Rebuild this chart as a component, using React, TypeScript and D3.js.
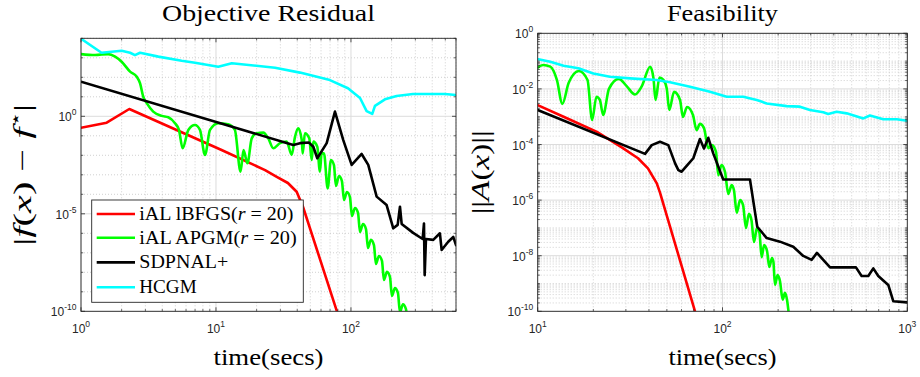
import React from "react";
import * as d3 from "d3";

type Pt = [number, number];

// ---------------- data: [time (secs), value] ----------------
const objLbfgs: Pt[] = [
  [1, 0.26], [1.55, 0.47], [2.28, 2.37], [11.0, 1.86e-2], [23.1, 1.74e-3], [28.2, 7.9e-4],
  [34.1, 3.8e-4], [39.6, 1.35e-4], [44.1, 2.3e-5], [78.7, 1.0e-10], [90.3, 6e-12],
];
const objApgm: Pt[] = [
  [1.0, 1.55e3], [1.27, 1.38e3], [1.59, 1.55e3], [1.79, 1.15e3], [2.0, 631], [2.31, 195], [2.59, 107],
  [2.74, 49], [2.89, 10.2], [3.07, 4.7], [3.43, 1.74], [3.96, 1.05], [4.43, 0.89], [4.97, 0.44],
  [5.32, 0.2], [5.66, 0.023], [6.24, 0.2], [6.99, 0.355], [7.61, 0.2], [8.29, 0.0105], [9.03, 0.2],
  [10.4, 0.44], [12.3, 0.39], [13.8, 0.2], [15.2, 1.45e-3], [16.0, 1.86e-2], [17.1, 3.9e-3],
  [18.4, 7.4e-2], [20.0, 0.135], [22.4, 0.145], [24.4, 7.4e-2], [26.6, 2.3e-2], [29.8, 4.2e-2],
  [33.4, 5.0e-2], [36.4, 1.05e-2], [38.5, 8.9e-2], [40.7, 0.24], [43.2, 6.0e-2], [43.9, 1.26e-2],
  [45.6, 0.135], [49.1, 7.4e-2], [51.2, 5.75e-3], [52.6, 5.0e-2], [56.3, 2.75e-2], [58.9, 1.45e-3],
  [60.6, 1.26e-2], [63.1, 1.26e-2], [67.2, 2.0e-4], [71.1, 5.75e-3], [74.8, 3.16e-3], [77.4, 2.7e-4],
  [81.5, 8.7e-4], [85.7, 4.8e-4], [88.8, 5.1e-5], [93.4, 1.32e-4], [98.3, 7.2e-5], [101.7, 7.8e-6],
  [107.1, 2.0e-5], [112.8, 1.1e-5], [116.7, 1.17e-6], [122.7, 3.0e-6], [129.2, 1.66e-6],
  [133.6, 1.78e-7], [140.6, 4.6e-7], [148.0, 2.5e-7], [153.1, 2.7e-8], [161.2, 6.9e-8],
  [169.7, 3.8e-8], [175.5, 4.1e-9], [184.8, 1.05e-8], [194.5, 5.75e-9], [201.2, 6.2e-10],
  [211.7, 1.55e-9], [222.8, 8.7e-10], [230.7, 9.1e-11], [242.7, 2.3e-10], [255.5, 1.29e-10],
  [264.4, 1.4e-11],
];
const objSdpnal: Pt[] = [
  [1, 59], [37.4, 3.4e-2], [41.9, 4.2e-2], [48.9, 4.5e-2], [52.6, 2.75e-2], [56.3, 7.1e-3],
  [66.1, 4.2e-2], [76.1, 1.74], [87.7, 6.0e-2], [101.2, 3.2e-3], [120, 1.17e-2], [134.3, 3.2e-3],
  [155, 7.6e-5], [183.7, 2.8e-5], [205.8, 1.8e-6], [221.8, 2.7e-6], [230.7, 2.3e-5], [237.5, 3.0e-6],
  [289, 1.05e-6], [339.6, 5.1e-7], [347.5, 3.2e-6], [351.6, 7.2e-9], [359.5, 5.1e-7], [407, 4.6e-7],
  [456, 1.0e-6], [469.6, 1.4e-7], [525.6, 3.7e-7], [572.5, 6.5e-7], [600, 2.5e-7],
];
const objHcgm: Pt[] = [
  [1, 9.5e3], [1.42, 1.82e3], [2.0, 2.29e3], [2.31, 1.82e3], [2.51, 1.38e3], [2.74, 1.82e3],
  [3.74, 1.15e3], [5.57, 708], [6.99, 562], [10.4, 347], [13.1, 525], [27.4, 309], [41.9, 174],
  [69.8, 72], [95, 27.5], [116.7, 8.7], [130.6, 1.86], [143.8, 1.32], [150.6, 3.4], [178.6, 7.4],
  [218, 11], [288, 13.8], [497, 13.8], [600, 12.3],
];

const feasLbfgs: Pt[] = [
  [10.0, 2.6e-3], [13.8, 1.0e-3], [20.8, 2.9e-4], [28.5, 7.9e-5], [34.9, 3.2e-5], [39.5, 1.38e-5],
  [44.1, 4.0e-6], [45.9, 1.86e-6], [71.0, 1.0e-10], [75.5, 2.1e-11],
];
const feasApgm: Pt[] = [
  [10.0, 5.8e-2], [10.7, 7.2e-2], [11.7, 6.3e-2], [12.7, 2.1e-2], [13.6, 2.9e-3], [14.7, 1.62e-2],
  [16.7, 4.4e-2], [18.6, 2.1e-2], [19.7, 7.6e-4], [20.8, 5.25e-3], [21.7, 4.0e-3], [22.6, 1.15e-3],
  [24.3, 1.0e-2], [27.5, 2.3e-2], [30.3, 1.26e-2], [33.6, 6.3e-3], [36.6, 1.26e-2], [40.6, 6.3e-2],
  [42.3, 2.45e-2], [43.4, 4.0e-3], [45.6, 2.57e-2], [47.9, 2.1e-2], [49.9, 1.05e-2], [51.5, 1.74e-3],
  [54.7, 7.8e-3], [58.9, 4.0e-3], [61.1, 9.8e-4], [64.3, 2.24e-3], [69.2, 1.15e-3], [72.4, 3.3e-4],
  [75.5, 5.5e-4], [79.4, 3.9e-4], [83.8, 7.4e-5], [87.7, 9.5e-5], [92.2, 5.4e-5], [94.9, 7.9e-6],
  [98.8, 1.82e-5], [103.2, 1.02e-5], [107.5, 1.66e-6], [112.2, 3.5e-6], [115.3, 2.3e-6],
  [119.4, 3.5e-7], [124.5, 1.0e-6], [129.2, 6.6e-7], [134.0, 1.0e-7], [139.0, 3.2e-7],
  [143.5, 1.9e-7], [148.0, 3.1e-8], [153.7, 1.0e-7], [158.5, 6.6e-8], [162.9, 8.9e-9],
  [167.9, 2.4e-8], [174.2, 1.48e-8], [179.1, 3.9e-9], [185.2, 8.3e-9], [188.6, 6.0e-9],
  [192.3, 8.9e-10], [198.6, 2.0e-9], [204.6, 1.23e-9], [211.7, 2.6e-10], [217.8, 4.6e-10],
  [223.4, 2.6e-10], [229, 6.8e-11],
];
const feasSdpnal: Pt[] = [
  [10.0, 1.74e-3], [38.1, 4.6e-5], [41.4, 9.5e-5], [45.9, 1.26e-4], [50.9, 9.5e-5], [55.4, 2.1e-5],
  [57.7, 1.2e-5], [60.1, 1.05e-5], [64.5, 1.82e-5], [69.5, 3.2e-5], [75.5, 1.58e-4], [79.4, 7.2e-5],
  [83.8, 1.74e-4], [89.1, 4.8e-5], [100.9, 5.5e-6], [140.8, 5.5e-6], [154.2, 1.1e-7], [173.5, 4.3e-8],
  [204.6, 3.2e-8], [241.5, 2.1e-8], [273.5, 9.8e-9], [303.8, 7.1e-9], [324.5, 1.26e-8],
  [381.9, 3.8e-9], [527.4, 3.8e-9], [566, 1.86e-9], [615, 1.86e-9], [654.6, 3.5e-9],
  [696.6, 1.86e-9], [789, 8.9e-10], [839.5, 2.3e-10], [1000, 2.1e-10],
];
const feasHcgm: Pt[] = [
  [10.1, 0.116], [11.7, 9.5e-2], [13.8, 6.8e-2], [16.6, 5.5e-2], [20.0, 3.6e-2], [24.6, 2.75e-2],
  [31.6, 2.4e-2], [44.0, 2.1e-2], [52.0, 1.74e-2], [66.7, 1.2e-2], [85.5, 7.9e-3], [105.4, 5.25e-3],
  [129.6, 5.25e-3], [153.2, 4.0e-3], [173.5, 3.0e-3], [222.5, 2.4e-3], [262.4, 2.3e-3],
  [297.2, 1.74e-3], [350.8, 1.45e-3], [373.3, 1.26e-3], [414.7, 1.51e-3], [469.9, 1.32e-3],
  [578, 8.7e-4], [628, 1.1e-3], [741, 8.1e-4], [877, 8.1e-4], [1000, 7.1e-4],
];

const legendNames = ["iAL lBFGS", "iAL APGM", "SDPNAL+", "HCGM"];
const legendRanks = ["20", "20", "", ""];
const seriesColors = ["#ff0000", "#00ff00", "#000000", "#00ffff"];

const objXTicks = [1, 10, 100];
const objXTickExp = ["0", "1", "2"];
const objYTicks = [1e-10, 1e-5, 1];
const objYTickExp = ["-10", "-5", "0"];
const feasXTicks = [10, 100, 1000];
const feasXTickExp = ["1", "2", "3"];
const feasYTicks = [1e-10, 1e-8, 1e-6, 1e-4, 1e-2, 1];
const feasYTickExp = ["-10", "-8", "-6", "-4", "-2", "0"];

const SERIF = "'Liberation Serif', 'DejaVu Serif', serif";
const SANS = "'Liberation Sans', Arial, sans-serif";
const AX = "#262626";

function minorValues(domain: [number, number], majors: number[], mults: number[]) {
  const out: number[] = [];
  const k0 = Math.floor(Math.log10(domain[0]));
  const k1 = Math.ceil(Math.log10(domain[1]));
  for (let k = k0; k <= k1; k++) {
    for (const m of mults) {
      const v = m * Math.pow(10, k);
      if (v < domain[0] * 0.99999 || v > domain[1] * 1.00001) continue;
      if (majors.some((t) => Math.abs(Math.log10(t) - Math.log10(v)) < 1e-6)) continue;
      out.push(v);
    }
  }
  return out;
}

type Box = { l: number; r: number; t: number; b: number };

function Panel(props: any) {
  const { id, box, xDomain, yDomain, xTicks, xTickExp, yTicks, yTickExp, yMinorMults, series,
    title, titleLen, xLabelLen, yLabel, legend } = props;
  const bx: Box = box;
  const x = d3.scaleLog().domain(xDomain).range([bx.l, bx.r]);
  const y = d3.scaleLog().domain(yDomain).range([bx.b, bx.t]);
  const xMinor = minorValues(xDomain, xTicks, [1, 2, 3, 4, 5, 6, 7, 8, 9]);
  const yMinor = minorValues(yDomain, yTicks, yMinorMults);
  const cx = (bx.l + bx.r) / 2;
  const lineLin = d3.line<Pt>().x((d) => x(d[0])).y((d) => y(d[1]));
  const lineSmooth = d3.line<Pt>().x((d) => x(d[0])).y((d) => y(d[1])).curve(d3.curveMonotoneX);
  const TL = 4;
  const TM = 2.2;
  return (
    <g>
      <defs>
        <clipPath id={id}>
          <rect x={bx.l} y={bx.t} width={bx.r - bx.l} height={bx.b - bx.t} />
        </clipPath>
      </defs>
      <rect x={bx.l} y={bx.t} width={bx.r - bx.l} height={bx.b - bx.t} fill="#fff" />
      {/* minor grid */}
      {xMinor.map((v, i) => (
        <line key={"xm" + i} x1={x(v)} x2={x(v)} y1={bx.t} y2={bx.b} stroke="#bdbdbd" strokeWidth={0.7} strokeDasharray="1 2" />
      ))}
      {yMinor.map((v, i) => (
        <line key={"ym" + i} x1={bx.l} x2={bx.r} y1={y(v)} y2={y(v)} stroke="#bdbdbd" strokeWidth={0.7} strokeDasharray="1 2" />
      ))}
      {/* major grid */}
      {xTicks.map((v: number, i: number) => (
        <line key={"xg" + i} x1={x(v)} x2={x(v)} y1={bx.t} y2={bx.b} stroke="#dcdcdc" strokeWidth={1} />
      ))}
      {yTicks.map((v: number, i: number) => (
        <line key={"yg" + i} x1={bx.l} x2={bx.r} y1={y(v)} y2={y(v)} stroke="#dcdcdc" strokeWidth={1} />
      ))}
      {/* series */}
      <g clipPath={`url(#${id})`}>
        {series.map((s: any, i: number) => (
          <path key={"s" + i} d={(s.smooth ? lineSmooth : lineLin)(s.data) || ""} fill="none" stroke={s.color}
            strokeWidth={2.6} strokeLinejoin="round" strokeLinecap="round" />
        ))}
      </g>
      {/* ticks */}
      {xTicks.map((v: number, i: number) => (
        <g key={"xt" + i}>
          <line x1={x(v)} x2={x(v)} y1={bx.b} y2={bx.b - TL} stroke={AX} strokeWidth={0.8} />
          <line x1={x(v)} x2={x(v)} y1={bx.t} y2={bx.t + TL} stroke={AX} strokeWidth={0.8} />
        </g>
      ))}
      {xMinor.map((v, i) => (
        <g key={"xmt" + i}>
          <line x1={x(v)} x2={x(v)} y1={bx.b} y2={bx.b - TM} stroke={AX} strokeWidth={0.7} />
          <line x1={x(v)} x2={x(v)} y1={bx.t} y2={bx.t + TM} stroke={AX} strokeWidth={0.7} />
        </g>
      ))}
      {yTicks.map((v: number, i: number) => (
        <g key={"yt" + i}>
          <line x1={bx.l} x2={bx.l + TL} y1={y(v)} y2={y(v)} stroke={AX} strokeWidth={0.8} />
          <line x1={bx.r} x2={bx.r - TL} y1={y(v)} y2={y(v)} stroke={AX} strokeWidth={0.8} />
        </g>
      ))}
      {yMinor.map((v, i) => (
        <g key={"ymt" + i}>
          <line x1={bx.l} x2={bx.l + TM} y1={y(v)} y2={y(v)} stroke={AX} strokeWidth={0.7} />
          <line x1={bx.r} x2={bx.r - TM} y1={y(v)} y2={y(v)} stroke={AX} strokeWidth={0.7} />
        </g>
      ))}
      <rect x={bx.l} y={bx.t} width={bx.r - bx.l} height={bx.b - bx.t} fill="none" stroke={AX} strokeWidth={0.9} />
      {/* tick labels */}
      {xTicks.map((v: number, i: number) => (
        <text key={"xl" + i} x={x(v)} y={332.5} textAnchor="middle" fontFamily={SANS} fontSize={12} fill={AX}>
          <tspan>10</tspan>
          <tspan dy={-6} fontSize={8.5}>{xTickExp[i]}</tspan>
        </text>
      ))}
      {yTicks.map((v: number, i: number) => (
        <text key={"yl" + i} x={bx.l - 4.5} y={y(v) + 5} textAnchor="end" fontFamily={SANS} fontSize={12} fill={AX}>
          <tspan>10</tspan>
          <tspan dy={-6} fontSize={8.5}>{yTickExp[i]}</tspan>
        </text>
      ))}
      {/* titles */}
      <text x={cx} y={21} textAnchor="middle" fontFamily={SERIF} fontSize={24} fill="#000"
        textLength={titleLen} lengthAdjust="spacingAndGlyphs">{title}</text>
      <text x={cx} y={365} textAnchor="middle" fontFamily={SERIF} fontSize={23} fill="#000"
        textLength={xLabelLen} lengthAdjust="spacingAndGlyphs">time(secs)</text>
      {yLabel}
      {legend}
    </g>
  );
}

function Legend() {
  const rowsY = [214, 237.8, 262.4, 287.3];
  const textLens = [154, 157.4, 89, 57.4];
  return (
    <g>
      <rect x={91.7} y={200} width={211.6} height={102.3} fill="#fff" stroke={AX} strokeWidth={0.9} />
      {legendNames.map((name, i) => (
        <g key={name}>
          <line x1={96.7} x2={135} y1={rowsY[i]} y2={rowsY[i]} stroke={seriesColors[i]} strokeWidth={2.6} />
          <text x={139.3} y={rowsY[i] + 5.7} fontFamily={SERIF} fontSize={19} fill="#000"
            textLength={textLens[i]} lengthAdjust="spacingAndGlyphs">
            <tspan>{name}</tspan>
            {legendRanks[i] ? (
              <>
                <tspan>(</tspan>
                <tspan fontStyle="italic">r</tspan>
                <tspan>{" = " + legendRanks[i] + ")"}</tspan>
              </>
            ) : null}
          </text>
        </g>
      ))}
    </g>
  );
}

export default function App() {
  const leftBox: Box = { l: 81, r: 456, t: 38.3, b: 311.3 };
  const rightBox: Box = { l: 537.7, r: 907.3, t: 33.3, b: 311.3 };
  const objSeries = [
    { data: objLbfgs, color: seriesColors[0] },
    { data: objApgm, color: seriesColors[1], smooth: true },
    { data: objSdpnal, color: seriesColors[2] },
    { data: objHcgm, color: seriesColors[3] },
  ];
  const feasSeries = [
    { data: feasLbfgs, color: seriesColors[0] },
    { data: feasApgm, color: seriesColors[1], smooth: true },
    { data: feasSdpnal, color: seriesColors[2] },
    { data: feasHcgm, color: seriesColors[3] },
  ];
  const leftCy = (leftBox.t + leftBox.b) / 2;
  const rightCy = (rightBox.t + rightBox.b) / 2;
  const leftYLabel = (
    <text transform={`translate(31,${leftCy}) rotate(-90)`} textAnchor="middle" fontFamily={SERIF}
      fontSize={26} fill="#000" textLength={142} lengthAdjust="spacingAndGlyphs">
      <tspan>|</tspan>
      <tspan fontStyle="italic">f</tspan>
      <tspan>(</tspan>
      <tspan fontStyle="italic">x</tspan>
      <tspan>{")  \u2212  "}</tspan>
      <tspan fontStyle="italic">f</tspan>
      <tspan dy={-10} fontSize={16}>{"\u22c6"}</tspan>
      <tspan dy={10}>|</tspan>
    </text>
  );
  const rightYLabel = (
    <text transform={`translate(488.5,${rightCy}) rotate(-90)`} textAnchor="middle" fontFamily={SERIF}
      fontSize={26} fill="#000" textLength={84} lengthAdjust="spacingAndGlyphs">
      <tspan>||</tspan>
      <tspan fontStyle="italic">A</tspan>
      <tspan>(</tspan>
      <tspan fontStyle="italic">x</tspan>
      <tspan>)||</tspan>
    </text>
  );
  return (
    <div style={{ position: "absolute", left: 0, top: 0, width: 920, height: 377, background: "#fff" }}>
      <svg width={920} height={377} viewBox="0 0 920 377" style={{ display: "block" }}>
        <rect x={0} y={0} width={920} height={377} fill="#fff" />
        <Panel id="clipObj" box={leftBox} xDomain={[1, 600]} yDomain={[1e-10, 1e4]}
          xTicks={objXTicks} xTickExp={objXTickExp} yTicks={objYTicks} yTickExp={objYTickExp}
          yMinorMults={[1]} series={objSeries} title="Objective Residual" titleLen={213}
          xLabelLen={110} yLabel={leftYLabel} legend={<Legend />} />
        <Panel id="clipFeas" box={rightBox} xDomain={[10, 1000]} yDomain={[1e-10, 1]}
          xTicks={feasXTicks} xTickExp={feasXTickExp} yTicks={feasYTicks} yTickExp={feasYTickExp}
          yMinorMults={[1, 2, 3, 4, 5, 6, 7, 8, 9]} series={feasSeries} title="Feasibility" titleLen={111}
          xLabelLen={108} yLabel={rightYLabel} legend={null} />
      </svg>
    </div>
  );
}
